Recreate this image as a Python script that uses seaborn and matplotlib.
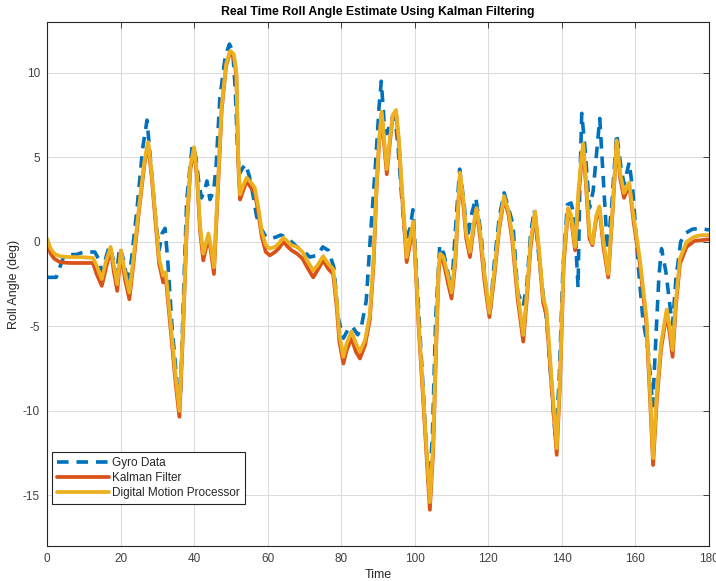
import matplotlib
matplotlib.use("Agg")
import matplotlib.pyplot as plt
import seaborn as sns
import pandas as pd

# ---- data ----
time_gyro = [0, 2.5, 3.5, 4.5, 6, 8, 10, 13, 14, 15, 16.2, 17, 18, 18.8, 19.8, 21, 22, 23, 24.5, 26,
             27.2, 28.3, 29.5, 30.5, 31.3, 32.1, 32.8, 34, 35.5, 36.3, 37, 38, 39.5, 40.5, 41.3, 42,
             42.8, 43.5, 44.3, 45.3, 46, 47, 48.5, 49.6, 50.5, 51.2, 51.8, 52.3, 53.0, 54.0, 55.0,
             56, 57, 58.2, 59.5, 61, 62.5, 63.5, 65, 66.5, 68, 70, 71.5, 73.5, 75, 76.5, 78, 79.2,
             80.6, 81.8, 83, 84.5, 85.5, 86.8, 88, 89.3, 90.3, 90.9, 91.7, 92.5, 93.5, 94.6, 95.5,
             96.5, 97.5, 98.7, 99.5, 100.3, 101.3, 102.5, 103.8, 104.8, 105.7, 106.8, 107.9, 109.2,
             110, 111, 112.2, 113.3, 114.3, 115.3, 116.6, 118, 119.5, 120.5, 121.5, 123, 124.3,
             125.5, 126.7, 128, 129.5, 130.5, 131.5, 132.5, 133.8, 135, 135.8, 137, 138.3, 139.3,
             140.3, 141.5, 142.5, 143.4, 144.4, 144.9, 145.4, 146.3, 147.5, 148.5, 150.3, 151.2,
             152.4, 153.5, 154.9, 156, 156.9, 158.3, 159.3, 160.8, 162, 163.5, 164.7, 165.6, 166.4,
             167.1, 168.3, 169.5, 170.1, 171, 172.3, 173.5, 175.5, 177.5, 180]
gyro = [-2.1, -2.1, -1.5, -0.9, -0.75, -0.75, -0.6, -0.6, -1.0, -1.8, -0.8, -0.2, -1.0, -2.0, -0.3,
        -1.2, -2.6, -1.0, 2.0, 5.5, 7.2, 4.5, 1.5, -0.5, 0.5, 0.8, -1.0, -5.0, -8.7, -9.0, -4.0, 2.5,
        5.7, 5.0, 3.5, 2.6, 3.0, 3.6, 2.5, 3.0, 4.5, 8.5, 11.0, 11.7, 11.3, 9.0, 5.5, 4.0, 4.3, 4.6,
        3.9, 2.8, 1.5, 0.8, 0.3, 0.2, 0.3, 0.4, 0.3, 0.0, -0.3, -0.6, -0.9, -0.8, -0.3, -0.5, -1.5,
        -4.5, -5.7, -5.2, -5.0, -5.5, -5.0, -3.5, 0.5, 4.5, 8.0, 9.5, 7.0, 6.4, 7.2, 7.5, 5.5, 2.5,
        0.0, 0.8, 1.9, -1.0, -5.0, -9.5, -14.8, -11.5, -4.5, -0.2, -0.7, -2.0, -2.8, 0.5, 4.3, 2.5,
        0.2, 1.5, 2.6, 0.5, -3.0, -4.2, -1.5, 1.5, 2.9, 2.0, 1.0, -3.0, -3.8, -2.5, 0.5, 1.9, -1.0,
        -3.3, -4.5, -8.0, -11.8, -8.0, -1.5, 2.2, 2.3, 1.5, -2.7, 3.5, 7.6, 5.5, 2.0, 3.0, 7.3, 4.0,
        -0.5, 2.0, 6.4, 4.5, 3.4, 4.7, 3.0, -1.5, -4.5, -6.5, -9.7, -5.5, -2.0, -0.4, -1.8, -4.0,
        -4.9, -2.2, 0.0, 0.5, 0.75, 0.8, 0.7]

time_filt = [0, 1, 2, 3.5, 6, 9, 12.5, 13.5, 14.9, 16, 17.3, 18.2, 19.1, 20.1, 21.2, 22.4, 23.5, 25,
             26.5, 27.5, 28.5, 29.5, 30.5, 31.6, 32.3, 33.5, 35, 36, 37, 38, 39, 40, 40.8, 41.6,
             42.5, 43.9, 44.6, 45.4, 46.5, 47.5, 48.7, 49.8, 50.8, 51.5, 52.0, 52.5, 53.3, 54.3,
             55.5, 56.5, 57.5, 58.4, 59.5, 60.6, 62, 63, 64.3, 65.5, 66.5, 68, 69.5, 71, 72.4, 73.5,
             75.1, 76.5, 77.8, 78.8, 79.5, 80.6, 81.5, 82.8, 84, 85.1, 86.5, 87.8, 88.8, 89.6, 90.3,
             91, 91.7, 92.4, 93.2, 94, 94.9, 95.7, 96.5, 97.2, 97.8, 98.7, 99.6, 100.3, 101, 102,
             103, 104.1, 105, 105.8, 106.5, 106.9, 107.8, 109, 110, 111, 112.3, 113.2, 114.0, 115,
             116, 116.8, 117.8, 119, 120.3, 121.5, 123, 124.3, 125.5, 126.5, 128, 129.5, 130.5,
             131.5, 132.7, 133.8, 134.9, 135.8, 137, 138.6, 139.5, 140.5, 141.7, 142.5, 143.6,
             144.5, 145.3, 145.8, 146.6, 147.5, 148.3, 149.3, 150.2, 151.3, 152.6, 153.8, 154.9,
             155.9, 156.9, 158.3, 159.5, 161.2, 163, 164, 164.8, 165.8, 167, 168.5, 169.3, 170.1,
             171, 172.1, 173.9, 176, 178, 180]
dmp = [0.2, -0.4, -0.7, -0.85, -0.9, -0.9, -0.95, -1.4, -2.2, -1.2, -0.3, -1.4, -2.5, -0.5, -1.8,
       -3.0, -1.0, 2.0, 4.8, 5.9, 4.0, 1.5, -1.0, -2.0, -1.8, -4.5, -8.0, -10.0, -5.0, 1.0, 4.5, 5.6,
       4.0, 1.0, -0.7, 0.5, -0.3, -1.5, 3.5, 8.0, 10.5, 11.3, 11.1, 10.0, 5.0, 2.8, 3.3, 3.8, 3.5,
       3.2, 2.0, 0.6, -0.2, -0.4, -0.3, -0.1, 0.25, 0.0, -0.2, -0.3, -0.6, -1.2, -1.7, -1.4, -0.85,
       -1.3, -1.6, -3.5, -5.5, -6.8, -6.0, -5.3, -6.0, -6.5, -5.8, -4.3, -1.0, 3.3, 6.0, 7.7, 6.0,
       4.3, 6.0, 7.5, 7.8, 6.0, 3.2, 1.0, -0.9, 0.2, 1.2, -1.5, -4.5, -8.0, -11.5, -15.4, -12.0,
       -6.0, -1.5, -0.7, -0.9, -2.0, -3.0, -1.0, 4.1, 2.5, 0.5, -0.6, 1.0, 2.0, 0.5, -2.0, -4.2,
       -2.0, 1.0, 2.7, 1.8, 0.4, -3.0, -5.5, -3.0, 0.0, 1.8, -0.5, -3.3, -4.0, -7.5, -12.2, -8.0,
       -1.0, 2.0, 1.6, -0.3, 3.0, 5.0, 5.8, 3.5, 0.5, -0.1, 1.5, 2.1, 0.0, -1.9, 2.0, 6.0, 4.0, 2.9,
       3.5, 1.5, -1.0, -4.5, -9.0, -12.8, -9.0, -6.0, -4.0, -5.0, -6.4, -3.5, -1.0, 0.0, 0.3, 0.4,
       0.4]
kalman = [0.0, -0.7, -1.0, -1.2, -1.25, -1.25, -1.25, -1.9, -2.6, -1.6, -0.4, -1.8, -2.9, -0.6,
          -2.2, -3.4, -1.3, 1.8, 4.6, 5.8, 3.8, 1.2, -1.3, -2.4, -2.1, -4.9, -8.4, -10.35, -5.3, 0.8,
          4.3, 5.5, 3.8, 0.7, -1.1, 0.3, -0.6, -1.9, 3.2, 7.8, 10.4, 11.2, 11.0, 9.8, 4.7, 2.5, 3.0,
          3.6, 3.2, 2.9, 1.7, 0.3, -0.6, -0.8, -0.6, -0.4, 0.0, -0.3, -0.5, -0.7, -1.0, -1.6, -2.1,
          -1.7, -1.1, -1.6, -1.9, -3.9, -5.9, -7.2, -6.4, -5.7, -6.5, -6.9, -6.1, -4.6, -1.3, 3.1,
          5.8, 7.6, 5.7, 4.0, 5.8, 7.4, 7.7, 5.8, 2.9, 0.7, -1.2, -0.1, 1.0, -1.8, -4.8, -8.3, -11.9,
          -15.85, -12.4, -6.3, -1.8, -0.9, -1.2, -2.4, -3.35, -1.3, 4.0, 2.2, 0.2, -0.9, 0.8, 1.9,
          0.2, -2.4, -4.45, -2.3, 0.8, 2.6, 1.6, 0.1, -3.4, -5.9, -3.3, -0.3, 1.7, -0.7, -3.6, -4.3,
          -7.9, -12.6, -8.3, -1.3, 1.9, 1.4, -0.5, 2.6, 4.6, 5.7, 3.2, 0.2, -0.2, 1.3, 2.0, -0.3,
          -2.1, 1.8, 5.9, 3.7, 2.6, 3.4, 1.2, -1.3, -4.9, -9.4, -13.2, -9.4, -6.3, -4.2, -5.4, -6.8,
          -3.8, -1.3, -0.3, 0.05, 0.1, 0.15]

x_ticks = [0, 20, 40, 60, 80, 100, 120, 140, 160, 180]
y_ticks = [-15, -10, -5, 0, 5, 10]
title = "Real Time Roll Angle Estimate Using Kalman Filtering"
labels = ["Gyro Data", "Kalman Filter", "Digital Motion Processor"]

# ---- plotting ----
sns.set_style("whitegrid")
plt.rcParams["font.family"] = ["Liberation Sans", "DejaVu Sans"]
plt.rcParams["axes.unicode_minus"] = False

fig = plt.figure(figsize=(7.16, 5.81), dpi=100)
ax = fig.add_axes([0.0656, 0.060, 0.9246, 0.902])

df_g = pd.DataFrame({"Time": time_gyro, "Roll": gyro})
df_k = pd.DataFrame({"Time": time_filt, "Roll": kalman})
df_d = pd.DataFrame({"Time": time_filt, "Roll": dmp})

sns.lineplot(data=df_g, x="Time", y="Roll", ax=ax, color="#0072BD", lw=2.6,
             linestyle=(0, (3.2, 2.2)), sort=False, estimator=None, label=labels[0])
sns.lineplot(data=df_k, x="Time", y="Roll", ax=ax, color="#D95319", lw=2.7,
             sort=False, estimator=None, label=labels[1])
sns.lineplot(data=df_d, x="Time", y="Roll", ax=ax, color="#EDB120", lw=2.7,
             sort=False, estimator=None, label=labels[2])

ax.set_xlim(0, 180)
ax.set_ylim(-18, 13)
ax.set_xticks(x_ticks)
ax.set_yticks(y_ticks)
ax.grid(True, color="#DCDCDC", lw=0.8)
for s in ax.spines.values():
    s.set_visible(True)
    s.set_color("#262626")
    s.set_linewidth(0.8)
ax.tick_params(direction="in", top=True, right=True, length=4, width=0.6,
               labelsize=8.5, colors="#262626", labelcolor="#404040", pad=5)
ax.set_xlabel("Time", fontsize=9, color="#262626", labelpad=3)
ax.set_ylabel("Roll Angle (deg)", fontsize=9, color="#262626", labelpad=2)
ax.set_title(title, fontsize=8.8, fontweight="bold", color="black", pad=5)

leg = ax.legend(loc="lower left", bbox_to_anchor=(0.008, 0.08), fontsize=8.5,
                frameon=True, fancybox=False, edgecolor="#262626", framealpha=1,
                handlelength=4.4, handletextpad=0.3, labelspacing=0.28,
                borderpad=0.4, borderaxespad=0.0)
leg.get_frame().set_linewidth(0.8)

fig.savefig("out.png", dpi=100)
